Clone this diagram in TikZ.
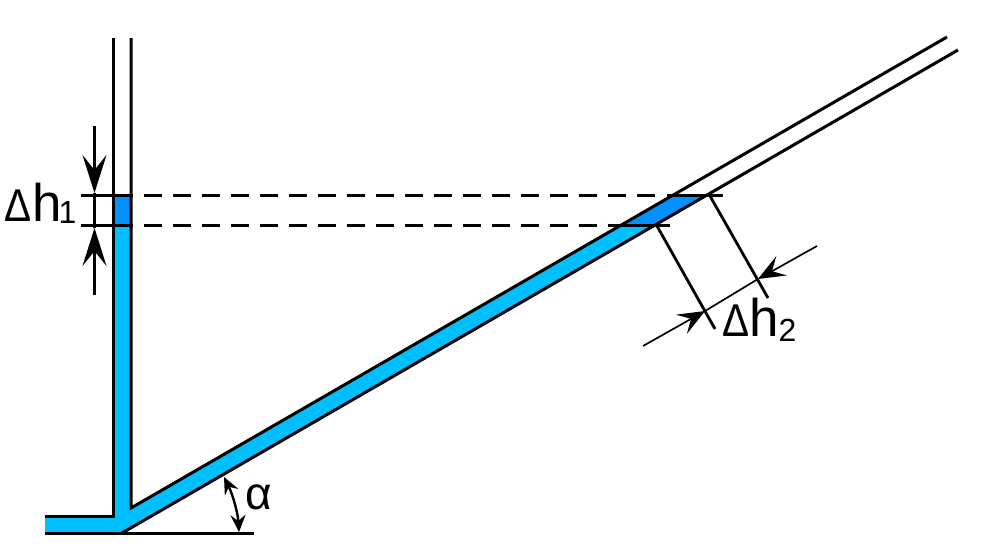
\documentclass[tikz,border=0pt]{standalone}
\usepackage{fontspec}
\usepackage{graphicx}
\setmainfont{Liberation Sans}
\usetikzlibrary{arrows.meta}
\definecolor{lightliq}{HTML}{00BFFF}
\definecolor{darkliq}{HTML}{0090FF}
\newcommand{\deltaglyph}{\scalebox{0.88}[1]{\fontsize{46pt}{46pt}\selectfont Δ}}
\tikzset{
  wall/.style={line width=3pt,black},
  extline/.style={line width=2.8pt,black},
  guide/.style={line width=2.8pt,black,dash pattern=on 18pt off 11pt},
  dimv/.style={line width=2.4pt,black},
  diml/.style={line width=1.7pt,black},
  bigtip/.style={-{Stealth[length=38pt,width=24pt,inset=15pt]}},
  midtip/.style={-{Stealth[length=27pt,width=22pt,inset=11pt]}},
  label/.style={anchor=base west,inner sep=0pt,outer sep=0pt,black},
}
\begin{document}
\begin{tikzpicture}[x=1pt,y=-1pt]
\useasboundingbox (0,0) rectangle (981,557);
% named points
\coordinate (ltop) at (113.5,38);
\coordinate (rtop) at (131,38);
\coordinate (lbot) at (113.5,516);
\coordinate (rbot) at (131,508);
\coordinate (inner) at (45,516);
\coordinate (outer) at (45,533);
\coordinate (base) at (122,533);
\coordinate (baseend) at (254,533);
\coordinate (uend) at (947,37);
\coordinate (lend) at (958,50);
% liquid
\fill[lightliq] (inner) -- (lbot) -- (113.5,225) -- (131,225) -- (rbot) -- (621,225) -- (656,225) -- (base) -- (outer) -- cycle;
\fill[darkliq] (113.5,196) rectangle (131,225);
\fill[darkliq] (621,225) -- (671.5,196) -- (707,196) -- (656,225) -- cycle;
% walls
\draw[wall,line join=miter] (ltop) -- (lbot) -- (inner);
\draw[wall,line join=miter] (rtop) -- (rbot) -- (uend);
\draw[wall] (outer) -- (baseend);
\draw[wall] (base) -- (lend);
% level lines
\coordinate (u1) at (81,195.5);
\coordinate (u2) at (133,195.5);
\coordinate (u3) at (144,195.5);
\coordinate (u4) at (660,195.5);
\coordinate (u5) at (667,195.5);
\coordinate (u6) at (723,195.5);
\coordinate (d1) at (81,225.5);
\coordinate (d2) at (133,225.5);
\coordinate (d3) at (144,225.5);
\coordinate (d4) at (600,225.5);
\coordinate (d5) at (608,225.5);
\coordinate (d6) at (670,225.5);
\draw[extline] (u1) -- (u2) (u5) -- (u6) (d1) -- (d2) (d5) -- (d6);
\draw[guide] (u3) -- (u4) (d3) -- (d4);
% extension lines
\coordinate (eu1) at (710,196);
\coordinate (eu2) at (768,298);
\coordinate (ed1) at (657,226);
\coordinate (ed2) at (715,329);
\draw[extline] (eu1) -- (eu2) (ed1) -- (ed2);
% h1 dimension
\coordinate (a1) at (94.5,126);
\coordinate (a1t) at (94.5,193);
\coordinate (a2) at (94.5,295);
\coordinate (a2t) at (94.5,228);
\draw[dimv] (a1t) -- (a2t);
\draw[dimv,bigtip] (a1) -- (a1t);
\draw[dimv,bigtip] (a2) -- (a2t);
% h2 dimension
\coordinate (b1) at (643,346);
\coordinate (b1t) at (705,311);
\coordinate (b2) at (817,246);
\coordinate (b2t) at (758,279);
\draw[diml] (b1t) -- (b2t);
\draw[diml,midtip] (b1) -- (b1t);
\draw[diml,midtip] (b2) -- (b2t);
% angle
\coordinate (c1) at (224,477);
\coordinate (c2) at (239,532);
\draw[dimv,{Stealth[length=17pt,width=15pt,inset=6pt]}-{Stealth[length=17pt,width=15pt,inset=6pt]}] (c1) .. controls (233,495) and (238,514) .. (c2);
% labels
\node[label] (h1) at (5,221) {\deltaglyph\fontsize{53pt}{53pt}\selectfont h\kern-3pt\raisebox{-2pt}{\fontsize{32pt}{32pt}\selectfont 1}};
\node[label] (h2) at (722,336) {\deltaglyph\fontsize{53pt}{53pt}\selectfont h\raisebox{-5pt}{\fontsize{32pt}{32pt}\selectfont 2}};
\node[label] (al) at (245,509) {\fontsize{46pt}{46pt}\selectfont α};
\end{tikzpicture}
\end{document}
